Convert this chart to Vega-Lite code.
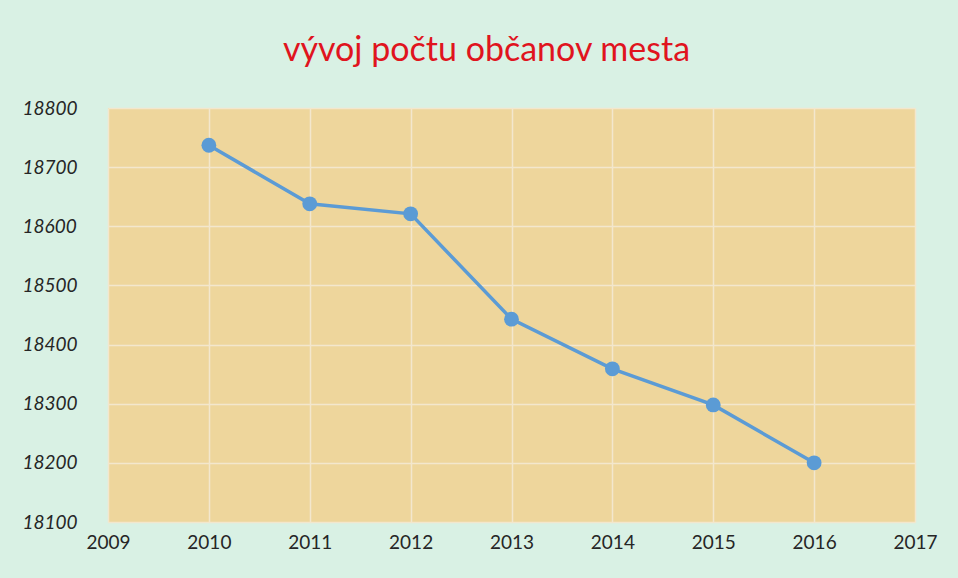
{
  "$schema": "https://vega.github.io/schema/vega-lite/v6.json",
  "autosize": {"type": "none"},
  "width": 807,
  "height": 414,
  "padding": {"left": 108, "top": 108, "right": 43, "bottom": 56},
  "background": "#d9f1e4",
  "title": {
    "text": "vývoj počtu občanov mesta",
    "color": "#e0141e",
    "font": "Lato",
    "fontSize": 34,
    "fontWeight": "normal",
    "anchor": "middle",
    "dx": -25,
    "baseline": "alphabetic",
    "offset": 4
  },
  "data": {
    "values": [
      {"rok": 2010, "pocet": 18737},
      {"rok": 2011, "pocet": 18638},
      {"rok": 2012, "pocet": 18621},
      {"rok": 2013, "pocet": 18443},
      {"rok": 2014, "pocet": 18359},
      {"rok": 2015, "pocet": 18298},
      {"rok": 2016, "pocet": 18200}
    ]
  },
  "config": {
    "view": {"fill": "#eed69c", "stroke": null},
    "axis": {
      "labelFont": "Lato",
      "labelFontSize": 19,
      "labelColor": "#262626",
      "domain": false,
      "ticks": false,
      "gridColor": "#f3e7cd",
      "gridWidth": 1.5,
      "gridOpacity": 1,
      "title": null
    }
  },
  "mark": {"type": "line", "color": "#5b9bd5", "strokeWidth": 3.5, "point": {"filled": true, "size": 220, "color": "#5b9bd5", "opacity": 1}},
  "encoding": {
    "x": {
      "field": "rok",
      "type": "quantitative",
      "scale": {"domain": [2009, 2017], "nice": false, "zero": false},
      "axis": {"values": [2009, 2010, 2011, 2012, 2013, 2014, 2015, 2016, 2017], "format": "d", "labelPadding": 20, "labelBaseline": "middle", "labelFlush": false}
    },
    "y": {
      "field": "pocet",
      "type": "quantitative",
      "scale": {"domain": [18100, 18800], "nice": false, "zero": false},
      "axis": {"values": [18100, 18200, 18300, 18400, 18500, 18600, 18700, 18800], "format": "d", "labelAlign": "left", "labelPadding": 86, "labelFontStyle": "italic", "labelBaseline": "middle", "labelFlush": false}
    }
  }
}
